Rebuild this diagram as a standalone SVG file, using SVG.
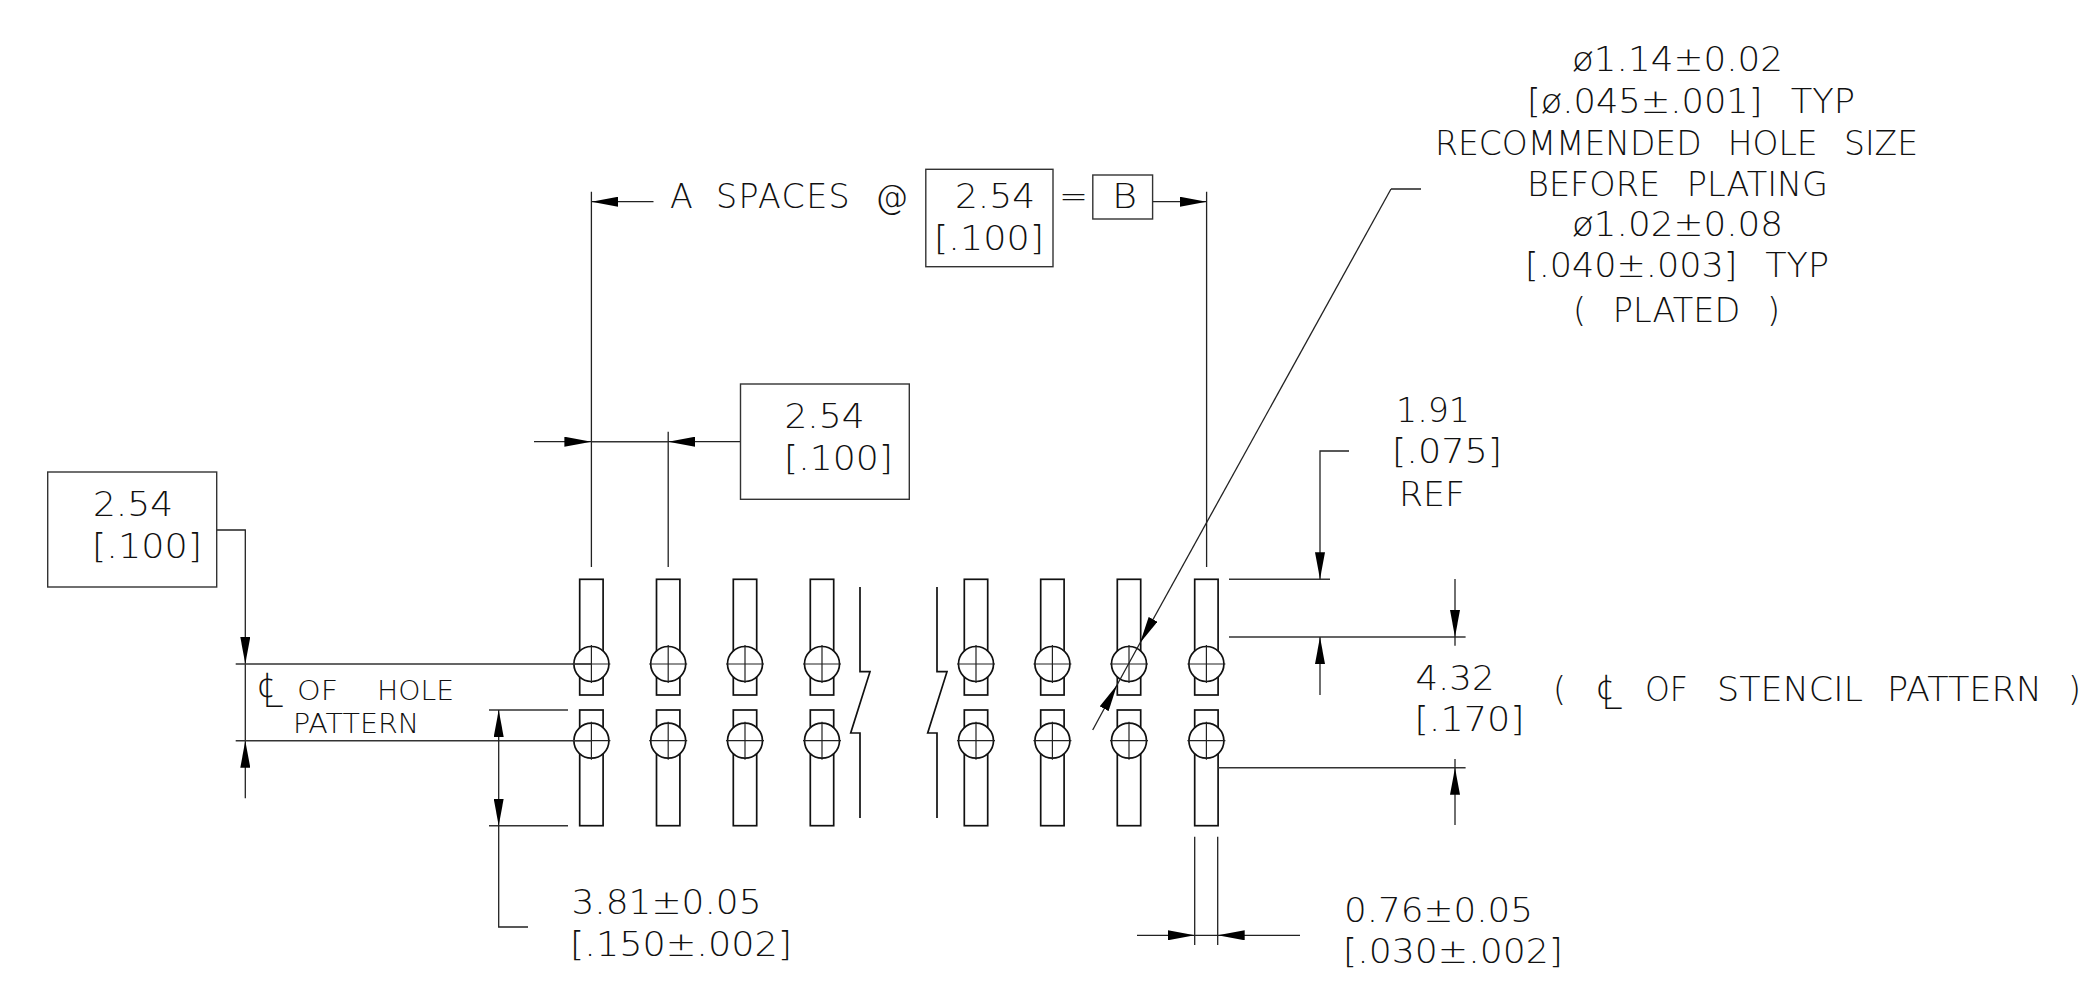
<svg xmlns="http://www.w3.org/2000/svg" width="2098" height="989" viewBox="0 0 2098 989">
<style>
text{font-family:"DejaVu Sans","Noto Sans",sans-serif;font-weight:200;font-size:33.3px;fill:#111;white-space:pre}
.s{font-size:27.2px}
.cl{font-size:48px}
.w{word-spacing:16px}
.pad{fill:none;stroke:#111;stroke-width:1.7}
.hole{fill:#fff;stroke:#111;stroke-width:1.7}
.cross{stroke:#222;stroke-width:1.2;fill:none}
.l{stroke:#222;stroke-width:1.3;fill:none}
.h{stroke:#333;stroke-width:1.6;fill:none}
.a{marker-end:url(#arr)}
.box{fill:none;stroke:#333;stroke-width:1.4}
</style>
<defs>
<marker id="arr" markerUnits="userSpaceOnUse" markerWidth="28" markerHeight="10" refX="27" refY="5" orient="auto"><path d="M0 0L27 5L0 10z" fill="#000"/></marker>
<g id="pin">
<rect class="pad" x="-11.7" y="579.3" width="23.4" height="115.7"/>
<rect class="pad" x="-11.7" y="710" width="23.4" height="115.7"/>
<circle class="hole" cx="0" cy="664" r="17.5"/>
<circle class="hole" cx="0" cy="740.7" r="17.5"/>
<path class="cross" d="M-19 664H19M0 645V683M-19 740.7H19M0 721.7V759.7"/>
</g>
</defs>
<rect width="2098" height="989" fill="#fff"/>
<g id="pins">
<use href="#pin" x="591.4"/><use href="#pin" x="668.2"/><use href="#pin" x="745"/><use href="#pin" x="822"/>
<use href="#pin" x="976"/><use href="#pin" x="1052.4"/><use href="#pin" x="1129"/><use href="#pin" x="1206.4"/>
</g>
<g id="break-lines">
<path class="pad" d="M860 587V671.7H870L850.7 733H860V818"/>
<path class="pad" d="M937 587V671.7H947L927.7 733H937V818"/>
</g>
<g id="connectors">
<path class="l" d="M591.4 191.7V567M1206.6 191.7V567M668.2 431.7V567"/>
<path class="l a" d="M653.5 201.7H591.4"/>
<path class="l a" d="M1152.6 201.7H1206.6"/>
<path class="h" d="M591.4 441.7H668.2"/>
<path class="l a" d="M534 441.7H591.4"/>
<path class="l a" d="M740.5 441.7H668.2"/>
<path class="l a" d="M216.7 530H245.3V664"/>
<path class="l" d="M245.3 664V740.7"/>
<path class="l a" d="M245.3 798.3V740.7"/>
<path class="h" d="M235.7 664H591M235.7 740.7H591M489 710H568M489 825.7H568"/>
<path class="l a" d="M498.7 760V710"/>
<path class="l a" d="M498.7 760V825.7"/>
<path class="l" d="M498.7 825.7V927H528"/>
<path class="l a" d="M1391 189L1140 643"/>
<path class="l" d="M1421 189H1391M1140 643L1117 685"/>
<path class="l a" d="M1092.7 730L1117 685"/>
<path class="h" d="M1229 579.3H1330M1229 637H1465.6M1218 767.7H1465.6"/>
<path class="l a" d="M1349 451H1320V579.3"/>
<path class="l a" d="M1320 695V637"/>
<path class="l" d="M1455 637V645.7M1455 767.7V759"/>
<path class="l a" d="M1455 579V637"/>
<path class="l a" d="M1455 825V767.7"/>
<path class="l" d="M1194.7 836.7V945M1217.7 836.7V945M1194.7 935.3H1217.7"/>
<path class="l a" d="M1137 935.3H1194.7"/>
<path class="l a" d="M1300 935.3H1217.7"/>
</g>
<g id="dim-top">
<text y="208"><tspan x="670">A</tspan><tspan x="716" letter-spacing="1.4">SPACES</tspan><tspan x="875">@</tspan></text>
<rect class="box" x="925.8" y="169.3" width="127.2" height="97.4"/>
<text x="955" y="208" textLength="80" lengthAdjust="spacingAndGlyphs">2.54</text>
<text x="934" y="250" textLength="110" lengthAdjust="spacingAndGlyphs">[.100]</text>
<text x="1059" y="208" textLength="29" lengthAdjust="spacingAndGlyphs">=</text>
<rect class="box" x="1092.8" y="175" width="59.8" height="44"/>
<text x="1112" y="208" textLength="25" lengthAdjust="spacingAndGlyphs">B</text>
</g>
<g id="dim-pitch">
<rect class="box" x="740.5" y="384" width="168.8" height="115.3"/>
<text x="784.5" y="427.7" textLength="80" lengthAdjust="spacingAndGlyphs">2.54</text>
<text x="784" y="470" textLength="109" lengthAdjust="spacingAndGlyphs">[.100]</text>
</g>
<g id="dim-row">
<rect class="box" x="47.7" y="472" width="169" height="115"/>
<text x="93" y="516" textLength="80" lengthAdjust="spacingAndGlyphs">2.54</text>
<text x="92" y="558" textLength="110" lengthAdjust="spacingAndGlyphs">[.100]</text>
</g>
<g id="label-hole-pattern">
<text class="cl" x="258" y="707">℄</text>
<text class="s" x="297" y="700" textLength="41" lengthAdjust="spacingAndGlyphs">OF</text>
<text class="s" x="377" y="700" textLength="77" lengthAdjust="spacingAndGlyphs">HOLE</text>
<text class="s" x="293" y="733" textLength="126" lengthAdjust="spacingAndGlyphs">PATTERN</text>
</g>
<g id="note-hole-size">
<text x="1572" y="71" textLength="211" lengthAdjust="spacingAndGlyphs">ø1.14±0.02</text>
<text class="w" x="1527" y="113" textLength="328" lengthAdjust="spacingAndGlyphs">[ø.045±.001] TYP</text>
<text class="w" x="1435" y="155" textLength="483" lengthAdjust="spacingAndGlyphs">RECOMMENDED HOLE SIZE</text>
<text class="w" x="1527" y="195.7" textLength="301" lengthAdjust="spacingAndGlyphs">BEFORE PLATING</text>
<text x="1572" y="235.7" textLength="211" lengthAdjust="spacingAndGlyphs">ø1.02±0.08</text>
<text class="w" x="1525" y="277" textLength="304" lengthAdjust="spacingAndGlyphs">[.040±.003] TYP</text>
<text class="w" x="1573" y="321.7" textLength="207" lengthAdjust="spacingAndGlyphs">( PLATED )</text>
</g>
<g id="dim-1-91">
<text x="1396" y="421.7" textLength="74" lengthAdjust="spacingAndGlyphs">1.91</text>
<text x="1392" y="463" textLength="110" lengthAdjust="spacingAndGlyphs">[.075]</text>
<text x="1399" y="506" textLength="66" lengthAdjust="spacingAndGlyphs">REF</text>
</g>
<g id="dim-4-32">
<text x="1415.5" y="690" textLength="79" lengthAdjust="spacingAndGlyphs">4.32</text>
<text x="1414.5" y="730.7" textLength="110" lengthAdjust="spacingAndGlyphs">[.170]</text>
<text x="1553" y="701">(</text>
<text class="cl" x="1597" y="709">℄</text>
<text x="1645" y="701" textLength="43" lengthAdjust="spacingAndGlyphs">OF</text>
<text x="1717" y="701" textLength="146" lengthAdjust="spacingAndGlyphs">STENCIL</text>
<text x="1887" y="701" textLength="155" lengthAdjust="spacingAndGlyphs">PATTERN</text>
<text x="2068" y="701">)</text>
</g>
<g id="dim-3-81">
<text x="571.5" y="914" textLength="190" lengthAdjust="spacingAndGlyphs">3.81±0.05</text>
<text x="570" y="956" textLength="222" lengthAdjust="spacingAndGlyphs">[.150±.002]</text>
</g>
<g id="dim-0-76">
<text x="1344" y="921.7" textLength="189" lengthAdjust="spacingAndGlyphs">0.76±0.05</text>
<text x="1343" y="963.3" textLength="220" lengthAdjust="spacingAndGlyphs">[.030±.002]</text>
</g>
</svg>
